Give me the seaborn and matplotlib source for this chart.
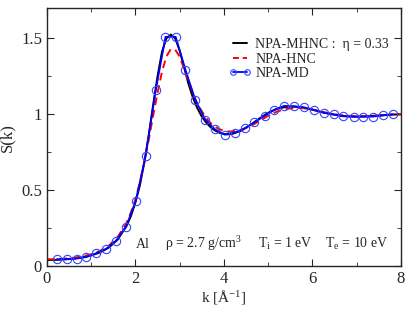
import matplotlib
matplotlib.use("Agg")
import matplotlib.pyplot as plt
import seaborn as sns
from matplotlib.ticker import MultipleLocator, FormatStrFormatter

# NPA-MHNC (eta = 0.33)
k_mhnc = [0.0, 0.2, 0.4, 0.6, 0.8, 1.0, 1.2, 1.4, 1.6, 1.8, 1.9, 2.0, 2.1, 2.2, 2.3, 2.4,
          2.5, 2.6, 2.7, 2.8, 2.9, 3.0, 3.1, 3.2, 3.3, 3.4, 3.5, 3.6, 3.7, 3.8, 3.9, 4.0,
          4.1, 4.2, 4.4, 4.6, 4.8, 5.0, 5.2, 5.4, 5.6, 5.8, 6.0, 6.2, 6.4, 6.6, 6.8, 7.0,
          7.2, 7.4, 7.6, 7.8, 8.0]
s_mhnc = [0.040, 0.041, 0.044, 0.049, 0.057, 0.070, 0.090, 0.122, 0.175, 0.265, 0.33, 0.42,
          0.53, 0.68, 0.86, 1.06, 1.25, 1.41, 1.50, 1.525, 1.50, 1.42, 1.31, 1.20, 1.11, 1.04,
          0.985, 0.945, 0.915, 0.893, 0.878, 0.870, 0.868, 0.872, 0.893, 0.930, 0.972, 1.010,
          1.036, 1.049, 1.050, 1.043, 1.030, 1.015, 1.002, 0.992, 0.986, 0.984, 0.986, 0.990,
          0.994, 0.998, 1.000]

# NPA-HNC
k_hnc = k_mhnc
s_hnc = [0.045, 0.046, 0.049, 0.055, 0.064, 0.078, 0.100, 0.135, 0.192, 0.285, 0.355, 0.44,
         0.55, 0.68, 0.83, 0.99, 1.14, 1.28, 1.38, 1.43, 1.425, 1.38, 1.30, 1.22, 1.14, 1.07,
         1.02, 0.975, 0.942, 0.918, 0.901, 0.892, 0.887, 0.887, 0.897, 0.922, 0.955, 0.990,
         1.018, 1.035, 1.042, 1.040, 1.031, 1.018, 1.006, 0.996, 0.990, 0.987, 0.988, 0.991,
         0.995, 0.998, 1.000]

# NPA-MD
k_md = [0.22, 0.45, 0.67, 0.89, 1.12, 1.34, 1.56, 1.79, 2.01, 2.23, 2.46, 2.68, 2.91, 3.13,
        3.35, 3.58, 3.80, 4.02, 4.25, 4.47, 4.69, 4.92, 5.14, 5.36, 5.59, 5.81, 6.03, 6.26,
        6.48, 6.70, 6.93, 7.15, 7.37, 7.60, 7.82]
s_md = [0.045, 0.046, 0.050, 0.060, 0.085, 0.114, 0.167, 0.26, 0.43, 0.726, 1.158, 1.51,
        1.51, 1.294, 1.097, 0.965, 0.90, 0.866, 0.88, 0.908, 0.947, 0.99, 1.03, 1.055, 1.053,
        1.046, 1.03, 1.01, 1.0, 0.987, 0.985, 0.985, 0.985, 0.993, 1.0]

sns.set_style("ticks")
plt.rcParams['font.family'] = ['Liberation Serif', 'DejaVu Serif']
plt.rcParams['mathtext.fontset'] = 'custom'
plt.rcParams['mathtext.rm'] = 'Liberation Serif'
plt.rcParams['mathtext.it'] = 'Liberation Serif:italic'

fig = plt.figure(figsize=(4.15, 3.21), dpi=100)
ax = fig.add_axes([0.113, 0.171, 0.853, 0.804])

sns.lineplot(x=k_mhnc, y=s_mhnc, color='black', linewidth=1.4, ax=ax,
             label='NPA-MHNC :  \u03b7 = 0.33')
sns.lineplot(x=k_hnc, y=s_hnc, color='red', linewidth=1.4, linestyle=(0, (4, 2.5)), ax=ax,
             label='NPA-HNC')
sns.lineplot(x=k_md, y=s_md, color='blue', linewidth=1.3, marker='o', markersize=6,
             markerfacecolor='none', markeredgecolor='#3344ff', markeredgewidth=0.8, ax=ax,
             label='NPA-MD')

ax.set_xlim(0, 8)
ax.set_ylim(0, 1.7)
ax.xaxis.set_major_locator(MultipleLocator(2))
ax.xaxis.set_minor_locator(MultipleLocator(1))
ax.yaxis.set_major_locator(MultipleLocator(0.5))
ax.yaxis.set_minor_locator(MultipleLocator(0.25))
ax.yaxis.set_major_formatter(FormatStrFormatter('%g'))
ax.tick_params(which='both', direction='in', top=True, right=True, labelsize=12)
ax.tick_params(which='major', length=5)
ax.tick_params(which='minor', length=3)
for sp in ax.spines.values():
    sp.set_linewidth(1.0)

ax.set_xlabel('k [\u00c5$^{\\mathregular{-1}}$]', fontsize=11, labelpad=1)
ax.set_ylabel('S(k)', fontsize=12, labelpad=4)

leg = ax.legend(loc='upper right', bbox_to_anchor=(0.99, 0.915), frameon=False, fontsize=10,
                handlelength=1.6, handletextpad=0.3, labelspacing=0.1, borderaxespad=0.2,
                numpoints=2)
for h in leg.legend_handles:
    h.set_markersize(4)
leg.legend_handles[1].set_linestyle((0, (3, 2)))

ty = 0.12
ax.text(2.0, ty, 'Al', fontsize=10)
ax.text(2.67, ty, '\u03c1 = 2.7 g/cm$^{\\mathregular{3}}$', fontsize=10)
ax.text(4.77, ty, 'T$_{\\mathregular{i}}$ = 1 eV', fontsize=10)
ax.text(6.28, ty, 'T$_{\\mathregular{e}}$ = 10 eV', fontsize=10)

fig.savefig('out.png', dpi=100)
